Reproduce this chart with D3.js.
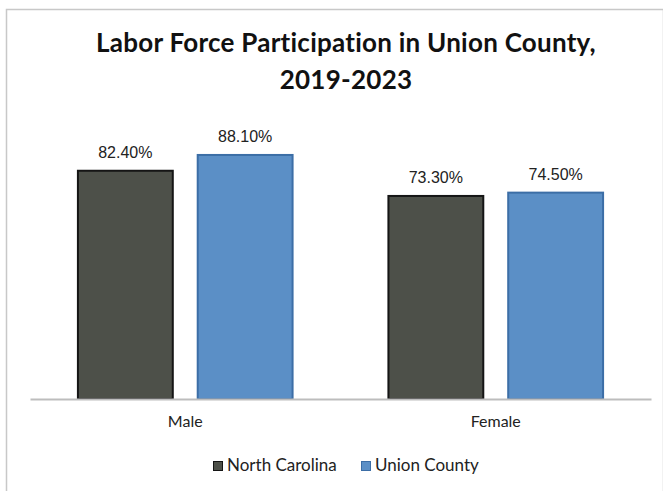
<!DOCTYPE html>
<html>
<head>
<meta charset="utf-8">
<script src="https://cdn.jsdelivr.net/npm/d3@7"></script>
<style>
  html, body { margin: 0; padding: 0; background: #fff; }
  svg { display: block; }
  text { font-variant-ligatures: none; }
</style>
</head>
<body>
<svg id="chart" width="663" height="491"></svg>
<script>
// Labor force participation rates (%), 2019-2023
const categories = ["Male", "Female"];
const seriesNames = ["North Carolina", "Union County"];
const northCarolina = [82.4, 73.3];
const unionCounty = [88.1, 74.5];

const seriesValues = [northCarolina, unionCounty];
const fills = ["#4d5049", "#5b8fc6"];
const strokes = ["#151515", "#3c6ea6"];

const svg = d3.select("#chart");
const W = 663, H = 491;

// Outer frame
svg.append("rect")
  .attr("x", 6.5).attr("y", 9.5)
  .attr("width", W - 6).attr("height", H)
  .attr("fill", "#fff")
  .attr("stroke", "#c8c8c8").attr("stroke-width", 1.5);

// Title
const title = svg.append("text")
  .attr("text-anchor", "middle")
  .attr("font-family", "Lato, 'Open Sans', sans-serif")
  .attr("font-weight", "bold")
  .attr("font-size", 26)
  .attr("letter-spacing", 0.25)
  .attr("fill", "#111");
title.append("tspan").attr("x", 346).attr("y", 52).text("Labor Force Participation  in Union County,");
title.append("tspan").attr("x", 346).attr("y", 89).text("2019-2023");

const margin = { left: 30, right: 12, top: 122, bottom: 92 };
const plotBottom = 399;

const x0 = d3.scaleBand()
  .domain(categories)
  .range([margin.left, W - margin.right]);

const x1 = d3.scaleBand()
  .domain(seriesNames)
  .range([0, x0.bandwidth()])
  .paddingInner(0.208)
  .paddingOuter(0.4);

const y = d3.scaleLinear()
  .domain([0, 100])
  .range([plotBottom, margin.top]);

const rows = categories.map((c, i) => ({
  category: c,
  values: seriesNames.map((s, j) => ({ series: s, idx: j, value: seriesValues[j][i] }))
}));

const groups = svg.append("g").selectAll("g")
  .data(rows)
  .join("g")
  .attr("transform", d => `translate(${x0(d.category)},0)`);

groups.selectAll("rect")
  .data(d => d.values)
  .join("rect")
  .attr("x", d => x1(d.series))
  .attr("y", d => y(d.value))
  .attr("width", x1.bandwidth())
  .attr("height", d => y(0) - y(d.value))
  .attr("fill", d => fills[d.idx])
  .attr("stroke", d => strokes[d.idx])
  .attr("stroke-width", 2);

groups.selectAll("text.val")
  .data(d => d.values)
  .join("text")
  .attr("class", "val")
  .attr("x", d => x1(d.series) + x1.bandwidth() / 2)
  .attr("y", d => y(d.value) - 13)
  .attr("text-anchor", "middle")
  .attr("font-family", "'Liberation Sans', Arial, sans-serif")
  .attr("font-size", 16)
  .attr("fill", "#222")
  .text(d => d.value.toFixed(2) + "%");

// Category axis
const xAxis = svg.append("g")
  .attr("transform", `translate(0,${plotBottom})`)
  .call(d3.axisBottom(x0).tickSize(0).tickPadding(17));
xAxis.select(".domain").attr("stroke", "#bdbdbd").attr("stroke-width", 2);
xAxis.selectAll("text")
  .attr("font-family", "Lato, 'Open Sans', sans-serif")
  .attr("font-size", 16)
  .attr("fill", "#222");

// Legend
const legendItems = [
  { name: seriesNames[0], x: 213, idx: 0 },
  { name: seriesNames[1], x: 361, idx: 1 }
];
const legend = svg.append("g").selectAll("g")
  .data(legendItems)
  .join("g")
  .attr("transform", d => `translate(${d.x},461)`);
legend.append("rect")
  .attr("x", 0.5).attr("y", 0.5)
  .attr("width", 9).attr("height", 9)
  .attr("fill", d => fills[d.idx])
  .attr("stroke", d => strokes[d.idx])
  .attr("stroke-width", 1);
legend.append("text")
  .attr("x", 14).attr("y", 10)
  .attr("font-family", "Lato, 'Open Sans', sans-serif")
  .attr("font-size", 17)
  .attr("fill", "#222")
  .text(d => d.name);
</script>
</body>
</html>
